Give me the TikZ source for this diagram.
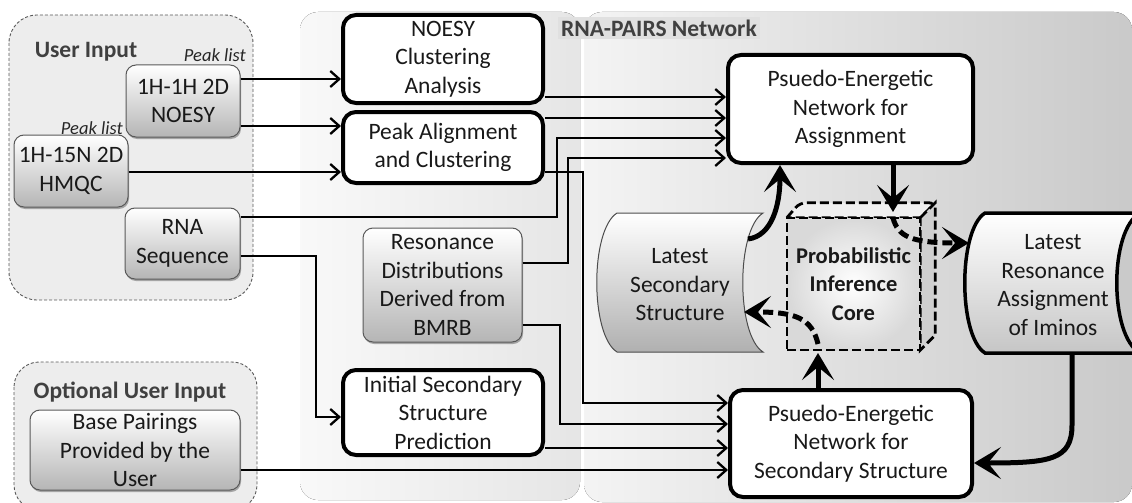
\documentclass[tikz,border=0pt]{standalone}
\usepackage{fontspec}
\setmainfont{Carlito}
\usetikzlibrary{arrows.meta,shadows,calc}

\begin{document}
\begin{tikzpicture}[x=1pt,y=-1pt,
  txt/.style={font=\fontsize{23.5}{28.5}\selectfont, text=black!90, align=center},
  sz/.style 2 args={minimum width=#1pt, minimum height=#2pt},
  inbox/.style={txt, draw=black!65, line width=1pt, rounded corners=10pt,
    top color=white, bottom color=gray!58, inner sep=0pt,
    drop shadow={shadow xshift=1pt, shadow yshift=-2pt, opacity=.3, fill=black}},
  procbox/.style={txt, draw=black, line width=4pt, rounded corners=13pt,
    fill=white, inner sep=0pt},
  grouplabel/.style={font=\fontsize{23.5}{26}\selectfont\bfseries, text=black!75},
  peaklabel/.style={font=\fontsize{18.5}{20}\selectfont\itshape, text=black!85, inner sep=0pt},
  link/.style={draw=black, line width=2.3pt,
    -{Straight Barb[length=9pt, width=16pt, line width=2.3pt]}},
  bigarrow/.style={draw=black, line width=5pt,
    -{Stealth[length=27pt, width=32pt, inset=13pt]}},
  dasharrow/.style={bigarrow, dash pattern=on 10pt off 5pt},
  panel/.style={rounded corners=18pt},
  inputpanel/.style={draw=black!65, densely dashed, line width=0.9pt, fill=gray!14},
  cubeline/.style={draw=black, line width=2.8pt, dash pattern=on 9pt off 4pt},
]
\useasboundingbox (0,0) rectangle (1132,503);
\clip (0,0) rectangle (1132,503);

% ---------- background panels ----------
\fill[panel, left color=gray!5, right color=gray!20] (300,12) rectangle (580,500);
\fill[panel, left color=gray!9, right color=gray!42] (584,12) rectangle (1132,502);
\draw[inputpanel, rounded corners=28pt] (9,15) rectangle (253,300);
\draw[inputpanel, rounded corners=25pt] (14,362) rectangle (257,510);

\node[grouplabel, fill=gray!24, inner sep=3pt] (netlabel) at (659,28) {RNA-PAIRS Network};
\node[grouplabel] (userlabel) at (86,52) {User Input};
\node[grouplabel] (optlabel) at (130,392) {Optional User Input};

% ---------- user inputs ----------
\node[inbox, sz={114}{72}] (noesy) at (183,101) {1H-1H 2D\\NOESY};
\node[inbox, sz={114}{72}] (hmqc) at (71,171) {1H-15N 2D\\HMQC};
\node[inbox, sz={115}{71}] (rnaseq) at (182.5,243.5) {RNA\\Sequence};
\node[inbox, sz={210}{80}] (basep) at (135,450) {Base Pairings\\Provided by the\\User};
\node[peaklabel, anchor=east] (pl1) at (246,55) {Peak list};
\node[peaklabel, anchor=east] (pl2) at (123,128) {Peak list};

% ---------- preprocessing ----------
\node[procbox, sz={200}{88}] (nca) at (443,59) {NOESY\\Clustering\\Analysis};
\node[procbox, sz={200}{71}] (pac) at (443,147.5) {Peak Alignment\\and Clustering};
\node[inbox, sz={159}{114}] (resd) at (442.5,285) {Resonance\\Distributions\\Derived from\\BMRB};
\node[procbox, sz={200}{85}] (issp) at (443,412.5) {Initial Secondary\\Structure\\Prediction};

% ---------- networks ----------
\node[procbox, sz={245}{108}] (pena) at (850.5,109) {Psuedo-Energetic\\Network for\\Assignment};
\node[procbox, sz={242}{107}] (pens) at (851,443.5) {Psuedo-Energetic\\Network for\\Secondary Structure};

% ---------- stored data shapes ----------
\path[draw=black!70, line width=1pt, top color=white, bottom color=gray!62]
  (617,213) -- (763,213) .. controls (736,230) and (736,335) .. (763,352)
  -- (617,352) .. controls (590,335) and (590,230) .. (617,213) -- cycle;
\node[txt] (lss) at (680,285) {Latest\\Secondary\\Structure};

\path[draw=black, line width=3.5pt, top color=white, bottom color=gray!45]
  (985,213) -- (1140,213) .. controls (1109,230) and (1109,336) .. (1140,353)
  -- (985,353) .. controls (958,336) and (958,230) .. (985,213) -- cycle;
\node[txt] (lra) at (1053,285) {Latest\\Resonance\\Assignment\\of Iminos};

% ---------- inference core (dashed cube) ----------
\node[sz={133}{132}, inner sep=0pt] (core) at (853.5,284) {};
\path[cubeline, fill=gray!12, rounded corners=6pt]
  (core.north west) -- ($(core.north west)+(13,-15)$) -- ($(core.north east)+(15,-15)$)
  [sharp corners] -- (core.north east) -- cycle;
\path[cubeline, fill=gray!38]
  (core.north east) -- ($(core.north east)+(15,-15)$) -- ($(core.south east)+(15,-15)$)
  -- (core.south east) -- cycle;
\node[txt, sz={133}{132}, inner sep=0pt, cubeline, inner color=white, outer color=gray!30,
  font=\fontsize{22.5}{28.5}\selectfont\bfseries] (corelabel) at (core.center)
  {Probabilistic\\Inference\\Core};

% ---------- connectors ----------
\draw[link] (noesy.east |- 0,79) -- (nca.west |- 0,79);
\draw[link] (noesy.east |- 0,126) -- (pac.west |- 0,126);
\draw[link] (hmqc.east |- 0,172) -- (pac.west |- 0,172);
\draw[link] (nca.east |- 0,97) -- (pena.west |- 0,97);
\draw[link] (pac.east |- 0,118) -- (pena.west |- 0,118);
\draw[link] (rnaseq.east |- 0,217) -- (557,217) -- (557,138) -- (pena.west |- 0,138);
\draw[link] (resd.east |- 0,263) -- (568,263) -- (568,158) -- (pena.west |- 0,158);
\draw[link] (pac.east |- 0,172) -- (583,172) -- (583,403) -- (pens.west |- 0,403);
\draw[link] (resd.east |- 0,325) -- (560,325) -- (560,424) -- (pens.west |- 0,424);
\draw[link] (issp.east |- 0,448) -- (pens.west |- 0,448);
\draw[link] (basep.east |- 0,470) -- (pens.west |- 0,470);
\draw[link] (rnaseq.east |- 0,256) -- (316,256) -- (316,417) -- (issp.west |- 0,417);

% ---------- feedback loop ----------
\coordinate (lssout) at (748,239);
\coordinate (lssin) at (744,312);
\coordinate (lrain) at (969,243);
\coordinate (lraout) at (1072,353);
\draw[bigarrow] (lssout) .. controls (772,236) and (780,205) .. (pena.south -| 780,0);
\draw[bigarrow] (pena.south -| 893,0) -- (893,212);
\draw[dasharrow] (893,218) .. controls (898,236) and (910,243) .. (lrain);
\draw[bigarrow] (pens.north -| 818,0) -- (818,353);
\draw[dasharrow] (818,344) .. controls (812,318) and (795,312) .. (lssin);
\draw[bigarrow] (lraout) -- (1072,425) .. controls (1072,460) and (1050,463) .. (pens.east |- 0,463);

\end{tikzpicture}
\end{document}
